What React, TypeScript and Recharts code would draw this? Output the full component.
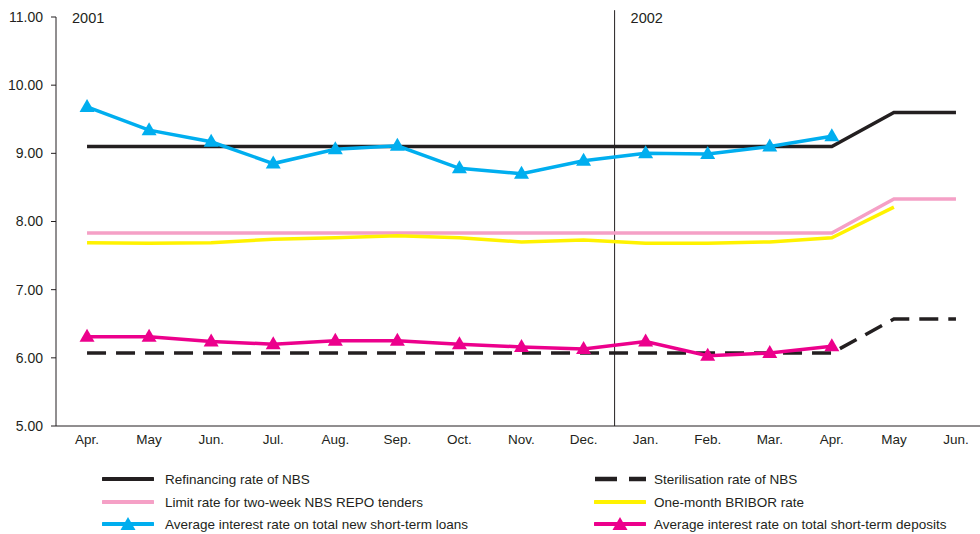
import React from "react";
import { LineChart, Line, XAxis, YAxis, ReferenceLine } from "recharts";

const months = ["Apr.", "May", "Jun.", "Jul.", "Aug.", "Sep.", "Oct.", "Nov.", "Dec.", "Jan.", "Feb.", "Mar.", "Apr.", "May", "Jun."];
const refinancing = [9.1, 9.1, 9.1, 9.1, 9.1, 9.1, 9.1, 9.1, 9.1, 9.1, 9.1, 9.1, 9.1, 9.6, 9.6];
const sterilisation = [6.07, 6.07, 6.07, 6.07, 6.07, 6.07, 6.07, 6.07, 6.07, 6.07, 6.07, 6.07, 6.07, 6.57, 6.57];
const repoLimit = [7.83, 7.83, 7.83, 7.83, 7.83, 7.83, 7.83, 7.83, 7.83, 7.83, 7.83, 7.83, 7.83, 8.33, 8.33];
const bribor = [7.69, 7.68, 7.69, 7.74, 7.76, 7.79, 7.76, 7.7, 7.73, 7.68, 7.68, 7.7, 7.76, 8.21, null];
const loans = [9.68, 9.34, 9.17, 8.85, 9.06, 9.11, 8.78, 8.7, 8.89, 9.0, 8.99, 9.1, 9.25, null, null];
const deposits = [6.31, 6.31, 6.24, 6.2, 6.25, 6.25, 6.2, 6.16, 6.13, 6.24, 6.03, 6.07, 6.17, null, null];
const yTicks = [5, 6, 7, 8, 9, 10, 11];

// x runs on a numeric scale: each month is a unit band, points sit at band centres
const data = months.map((m, i) => ({
  x: i + 0.5,
  month: m,
  refinancing: refinancing[i],
  sterilisation: sterilisation[i],
  repoLimit: repoLimit[i],
  bribor: bribor[i],
  loans: loans[i],
  deposits: deposits[i],
}));
const labelTicks = months.map((_, i) => i + 0.5);
const bandTicks = months.map((_, i) => i).concat([months.length]);

const FONT = '"Liberation Sans", Arial, Helvetica, sans-serif';
const INK = "#231f20";

const series = [
  { key: "refinancing", name: "Refinancing rate of NBS", color: INK, width: 3.5, dash: undefined as string | undefined, marker: false },
  { key: "sterilisation", name: "Sterilisation rate of NBS", color: INK, width: 3.5, dash: "19 10", marker: false },
  { key: "repoLimit", name: "Limit rate for two-week NBS REPO tenders", color: "#f5a0c6", width: 3.5, dash: undefined, marker: false },
  { key: "bribor", name: "One-month BRIBOR rate", color: "#fff200", width: 3.5, dash: undefined, marker: false },
  { key: "loans", name: "Average interest rate on total new short-term loans", color: "#00aeef", width: 3.5, dash: undefined, marker: true },
  { key: "deposits", name: "Average interest rate on total short-term deposits", color: "#ec008c", width: 3.5, dash: undefined, marker: true },
];

const triPoints = (cx: number, cy: number) => `${cx},${cy - 8} ${cx + 7.5},${cy + 5} ${cx - 7.5},${cy + 5}`;

const triangleDot = (color: string) => (p: any) => {
  if (p.cx == null || p.cy == null || p.value == null) return <g key={p.index} />;
  return <polygon key={p.index} points={triPoints(p.cx, p.cy)} fill={color} />;
};

const yearLabel = (text: string) => (props: any) => {
  const vb = props.viewBox || {};
  return (
    <text x={(vb.x ?? 0) + 16} y={(vb.y ?? 0) + 13} fontSize={14.5} fontFamily={FONT} fill={INK}>
      {text}
    </text>
  );
};

function LegendItem({ s, left, top, gap }: { s: (typeof series)[number]; left: number; top: number; gap: number }) {
  return (
    <div style={{ position: "absolute", left, top: top - 10, height: 20, display: "flex", alignItems: "center" }}>
      <svg width={52} height={20}>
        {s.dash ? (
          <>
            <line x1={1} y1={10} x2={23} y2={10} stroke={s.color} strokeWidth={4.5} />
            <line x1={35} y1={10} x2={52} y2={10} stroke={s.color} strokeWidth={4.5} />
          </>
        ) : (
          <line x1={1} y1={10} x2={51} y2={10} stroke={s.color} strokeWidth={4} strokeLinecap="round" />
        )}
        {s.marker && <polygon points={triPoints(26, 11)} fill={s.color} />}
      </svg>
      <span style={{ marginLeft: gap, fontSize: 13.5, color: INK, fontFamily: FONT, whiteSpace: "nowrap" }}>{s.name}</span>
    </div>
  );
}

export default function App() {
  const rows = [479, 502, 524];
  return (
    <div style={{ position: "absolute", left: 0, top: 0, width: 980, height: 534, overflow: "hidden", background: "#fff", fontFamily: FONT }}>
      <LineChart width={990} height={456} data={data} margin={{ top: 17, right: 3, bottom: 0, left: 0 }}>
        {/* month boundaries: axis line and tick marks only */}
        <XAxis
          type="number"
          dataKey="x"
          domain={[0, months.length]}
          ticks={bandTicks}
          interval={0}
          tick={false}
          tickSize={5}
          tickLine={{ stroke: INK }}
          axisLine={{ stroke: INK }}
          height={1}
        />
        {/* month names at band centres */}
        <XAxis
          xAxisId="labels"
          type="number"
          dataKey="x"
          domain={[0, months.length]}
          ticks={labelTicks}
          interval={0}
          tickFormatter={(v: number) => months[Math.floor(v)]}
          tickLine={false}
          tickSize={5}
          tickMargin={2}
          axisLine={false}
          tick={{ fontSize: 13.5, fill: INK, fontFamily: FONT }}
          height={29}
        />
        <YAxis
          width={56}
          domain={[5, 11]}
          ticks={yTicks}
          interval={0}
          tickFormatter={(v: number) => v.toFixed(2)}
          tickSize={5}
          tickMargin={8}
          tickLine={{ stroke: INK }}
          axisLine={{ stroke: INK }}
          tick={{ fontSize: 14, fill: INK, fontFamily: FONT }}
        />
        <ReferenceLine
          segment={[{ x: 0, y: 5 }, { x: 0, y: 11.1 }]}
          stroke="none"
          ifOverflow="visible"
          label={yearLabel("2001")}
        />
        <ReferenceLine
          segment={[{ x: 9, y: 5 }, { x: 9, y: 11.1 }]}
          stroke={INK}
          strokeWidth={1}
          ifOverflow="visible"
          label={yearLabel("2002")}
        />
        {series.map((s) => (
          <Line
            key={s.key}
            type="linear"
            dataKey={s.key}
            name={s.name}
            stroke={s.color}
            strokeWidth={s.width}
            strokeDasharray={s.dash}
            dot={s.marker ? triangleDot(s.color) : false}
            activeDot={false}
            isAnimationActive={false}
          />
        ))}
      </LineChart>
      {series.map((s, i) => (
        <LegendItem
          key={s.key}
          s={s}
          left={i % 2 === 0 ? 102 : 594}
          top={rows[Math.floor(i / 2)]}
          gap={i % 2 === 0 ? 11 : 8}
        />
      ))}
    </div>
  );
}
